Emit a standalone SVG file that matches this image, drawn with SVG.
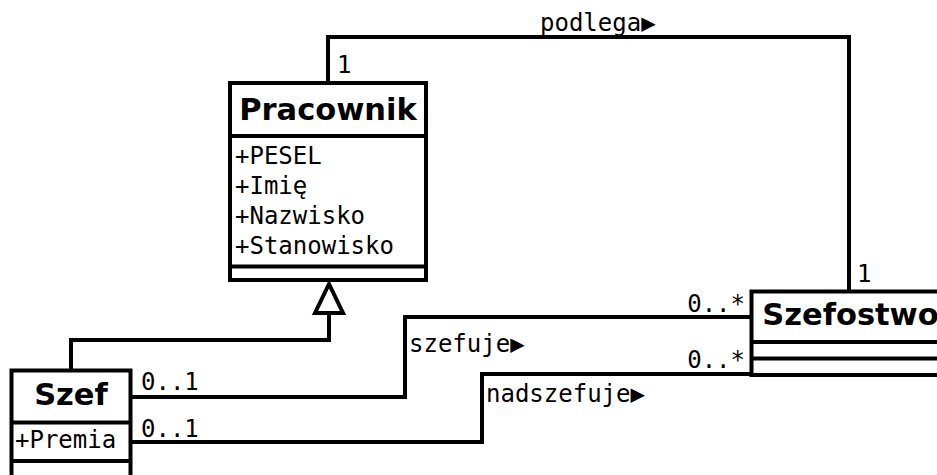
<svg xmlns="http://www.w3.org/2000/svg" width="937" height="475" viewBox="0 0 937 475">
<style>
.box{fill:#fff;stroke:#000;stroke-width:4}
.sep{stroke:#000;stroke-width:4;fill:none}
.title{font-family:"DejaVu Sans",sans-serif;font-weight:bold;font-size:30.5px;text-anchor:middle;fill:#000}
.mono{font-family:"DejaVu Sans Mono",monospace;font-size:24px;fill:#000}
.end{text-anchor:end}
.conn{fill:none;stroke:#000;stroke-width:4;stroke-linejoin:miter}
</style>
<g id="connectors">
<polyline class="conn" points="328,83 328,37 849,37 849,291.5"/>
<polyline class="conn" points="131,397 405,397 405,317 751,317"/>
<polyline class="conn" points="131,442 482,442 482,374 751,374"/>
<polyline class="conn" points="71,370 71,340 329,340 329,313"/>
<polygon class="conn" points="329,284 315,313 343,313" style="fill:#fff"/>
<text class="mono" x="540" y="31">podlega▶</text>
<text class="mono" x="337" y="73">1</text>
<text class="mono" x="857" y="282">1</text>
<text class="mono" x="141" y="390">0..1</text>
<text class="mono" x="141" y="437">0..1</text>
<text class="mono end" x="745" y="312">0..*</text>
<text class="mono end" x="745" y="368">0..*</text>
<text class="mono" x="409" y="352">szefuje▶</text>
<text class="mono" x="486" y="402">nadszefuje▶</text>
</g>
<g id="pracownik">
<rect class="box" x="230" y="83" width="196" height="197"/>
<line class="sep" x1="230" y1="136" x2="426" y2="136"/>
<line class="sep" x1="230" y1="266.5" x2="426" y2="266.5"/>
<text class="title" x="328" y="120">Pracownik</text>
<text class="mono" x="235" y="164">+PESEL</text>
<text class="mono" x="235" y="194">+Imię</text>
<text class="mono" x="235" y="224">+Nazwisko</text>
<text class="mono" x="235" y="254">+Stanowisko</text>
</g>
<g id="szef">
<rect class="box" x="11.5" y="370.5" width="119" height="140"/>
<line class="sep" x1="11.5" y1="422.5" x2="130.5" y2="422.5"/>
<line class="sep" x1="11.5" y1="461" x2="130.5" y2="461"/>
<text class="title" x="71" y="405">Szef</text>
<text class="mono" x="15" y="448">+Premia</text>
</g>
<g id="szefostwo">
<rect class="box" x="751.5" y="291.5" width="198" height="83.5"/>
<line class="sep" x1="751.5" y1="342" x2="949.5" y2="342"/>
<line class="sep" x1="751.5" y1="358.5" x2="949.5" y2="358.5"/>
<text class="title" x="850.5" y="325">Szefostwo</text>
</g>
</svg>
